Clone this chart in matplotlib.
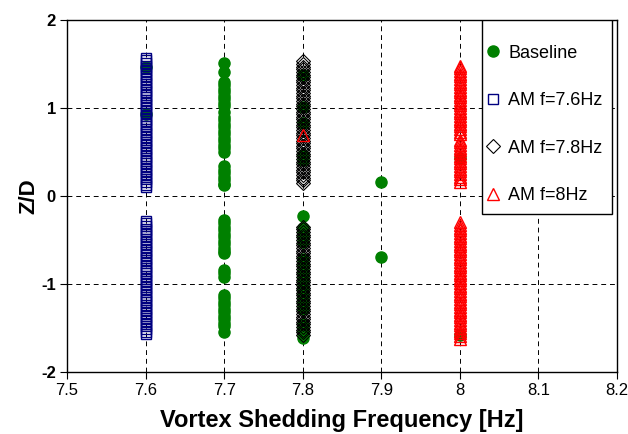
import matplotlib
matplotlib.use("Agg")
import matplotlib.pyplot as plt
from matplotlib.lines import Line2D
from matplotlib.patches import Rectangle

plt.rcParams['font.family'] = ['Liberation Sans', 'DejaVu Sans']

# baseline shedding positions (frequency, Z/D)
base_f = [7.6, 7.6,
          7.7, 7.7, 7.7, 7.7, 7.7, 7.7, 7.7, 7.7, 7.7, 7.7, 7.7, 7.7, 7.7, 7.7, 7.7,
          7.7, 7.7, 7.7, 7.7, 7.7, 7.7, 7.7, 7.7, 7.7, 7.7, 7.7, 7.7, 7.7, 7.7,
          7.7, 7.7, 7.7, 7.7, 7.7, 7.7, 7.7, 7.7, 7.7, 7.7, 7.7, 7.7, 7.7, 7.7,
          7.7, 7.7, 7.7, 7.7, 7.7, 7.7, 7.7, 7.7, 7.7, 7.7, 7.7,
          7.8, 7.8, 7.8, 7.8, 7.8,
          7.8, 7.8, 7.8, 7.8, 7.8, 7.8, 7.8, 7.8, 7.8, 7.8, 7.8, 7.8, 7.8, 7.8,
          7.8, 7.8, 7.8, 7.8, 7.8, 7.8, 7.8, 7.8, 7.8, 7.8, 7.8, 7.8,
          7.9, 7.9, 8.0, 8.0]
base_z = [1.47, 0.93,
          1.51, 1.41, 1.30, 1.26, 1.22, 1.18, 1.14, 1.10, 1.06, 1.02, 0.95, 0.90, 0.86,
          0.82, 0.78, 0.74, 0.70, 0.66, 0.62, 0.58, 0.54, 0.50, 0.34, 0.30, 0.26, 0.22, 0.18,
          0.14, 0.12, -0.27, -0.31, -0.35, -0.39, -0.43, -0.47, -0.51, -0.55, -0.59, -0.63,
          -0.65, -0.84, -0.88, -0.92, -1.12, -1.16, -1.20, -1.24, -1.28, -1.32, -1.36, -1.40,
          -1.44, -1.48, -1.54,
          1.38, 1.01, 0.83, 0.47, 0.41,
          -0.23, -0.36, -0.40, -0.44, -0.48, -0.52, -0.72, -0.76, -0.80, -0.84, -0.88, -0.92,
          -0.96, -1.00, -1.04, -1.08, -1.12, -1.16, -1.20, -1.24, -1.28, -1.45, -1.49, -1.53,
          -1.57, -1.61,
          0.16, -0.69, 0.43, -1.58]

# AM forcing at 7.6 Hz
am76_z = [1.57, 1.54, 1.51, 1.48, 1.45, 1.42, 1.39, 1.36, 1.33, 1.30, 1.27, 1.24, 1.21,
          1.18, 1.15, 1.12, 1.09, 1.06, 1.03, 1.00, 0.97, 0.94, 0.91, 0.88, 0.85, 0.82,
          0.79, 0.76, 0.73, 0.70, 0.67, 0.64, 0.61, 0.58, 0.55, 0.52, 0.49, 0.46, 0.43,
          0.40, 0.37, 0.34, 0.31, 0.28, 0.25, 0.22, 0.19, 0.16, 0.13, 0.10,
          -0.28, -0.31, -0.34, -0.37, -0.40, -0.43, -0.46, -0.49, -0.52, -0.55, -0.58,
          -0.61, -0.64, -0.67, -0.70, -0.73, -0.76, -0.79, -0.82, -0.85, -0.88, -0.91,
          -0.94, -0.97, -1.00, -1.03, -1.06, -1.09, -1.12, -1.15, -1.18, -1.21, -1.24,
          -1.27, -1.30, -1.33, -1.36, -1.39, -1.42, -1.45, -1.48, -1.51, -1.54, -1.57]
am76_f = [7.6] * len(am76_z)

# AM forcing at 7.8 Hz
am78_z = [1.53, 1.50, 1.47, 1.44, 1.41, 1.38, 1.35, 1.32, 1.29, 1.26, 1.23, 1.20, 1.17,
          1.14, 1.11, 1.08, 1.05, 1.02, 0.99, 0.96, 0.93, 0.90, 0.87, 0.84, 0.81, 0.78,
          0.75, 0.72, 0.69, 0.66, 0.63, 0.60, 0.57, 0.54, 0.51, 0.48, 0.45, 0.42, 0.39,
          0.36, 0.33, 0.30, 0.27, 0.24, 0.21, 0.18, 0.15,
          -0.35, -0.38, -0.41, -0.44, -0.47, -0.50, -0.53, -0.56, -0.59, -0.62, -0.65,
          -0.68, -0.71, -0.74, -0.77, -0.80, -0.83, -0.86, -0.89, -0.92, -0.95, -0.98,
          -1.01, -1.04, -1.07, -1.10, -1.13, -1.16, -1.19, -1.22, -1.25, -1.28, -1.31,
          -1.34, -1.37, -1.40, -1.43, -1.46, -1.49, -1.52, -1.55, -1.58]
am78_f = [7.8] * len(am78_z)

# AM forcing at 8 Hz
am8_z = [0.69,
         1.48, 1.45, 1.42, 1.39, 1.36, 1.33, 1.30, 1.27, 1.24, 1.21, 1.18, 1.15, 1.12,
         1.09, 1.06, 1.03, 1.00, 0.97, 0.94, 0.91, 0.88, 0.85, 0.82, 0.79, 0.76, 0.73,
         0.70, 0.64, 0.61, 0.58, 0.55, 0.52, 0.49, 0.46, 0.43, 0.40, 0.37, 0.34, 0.31,
         0.28, 0.25, 0.22, 0.19, 0.16,
         -0.30, -0.33, -0.36, -0.39, -0.42, -0.45, -0.48, -0.51, -0.54, -0.57, -0.60,
         -0.63, -0.66, -0.69, -0.72, -0.75, -0.78, -0.81, -0.84, -0.87, -0.90, -0.93,
         -0.96, -0.99, -1.02, -1.05, -1.08, -1.11, -1.14, -1.17, -1.20, -1.23, -1.26,
         -1.29, -1.32, -1.35, -1.38, -1.41, -1.44, -1.47, -1.50, -1.53, -1.56, -1.59,
         -1.62]
am8_f = [7.8] + [8.0] * (len(am8_z) - 1)

xticks = [7.5, 7.6, 7.7, 7.8, 7.9, 8.0, 8.1, 8.2]
xtick_labels = ['7.5', '7.6', '7.7', '7.8', '7.9', '8', '8.1', '8.2']
yticks = [-2, -1, 0, 1, 2]
ytick_labels = ['-2', '-1', '0', '1', '2']

fig = plt.figure(figsize=(6.28, 4.34), dpi=100)
ax = fig.add_axes([67 / 628, 1 - 372 / 434, 550 / 628, 352 / 434])

circ = dict(linestyle='none', marker='o', ms=8.0, color='green', mec='green')
sq = dict(linestyle='none', marker='s', ms=7.6, mfc='none', mec='navy', mew=1.0)
dia = dict(linestyle='none', marker='D', ms=6.8, mfc='none', mec='black', mew=0.8)
tri = dict(linestyle='none', marker='^', ms=8.2, mfc='none', mec='red', mew=1.0)

ax.plot(base_f, base_z, zorder=3, **circ)
ax.plot(am76_f, am76_z, zorder=4, **sq)
ax.plot(am78_f, am78_z, zorder=5, **dia)
ax.plot(am8_f, am8_z, zorder=6, **tri)

ax.set_xlim(7.5, 8.2)
ax.set_ylim(-2, 2)
ax.set_xticks(xticks)
ax.set_xticklabels(xtick_labels, fontsize=12)
ax.set_yticks(yticks)
ax.set_yticklabels(ytick_labels, fontsize=12, fontweight='bold')
ax.tick_params(direction='out', length=5, width=0.8, color='black', pad=3)
ax.grid(True, color='black', linestyle=(0, (5, 4)), linewidth=0.7, zorder=1)
ax.set_axisbelow(True)
for sp in ax.spines.values():
    sp.set_linewidth(1.0)
    sp.set_color('black')

ax.set_xlabel('Vortex Shedding Frequency [Hz]', fontsize=17, fontweight='bold', labelpad=8)
ax.set_ylabel('Z/D', fontsize=16, fontweight='bold', labelpad=1)

# legend box: frame drawn separately so it can be taller than it is padded sideways
box = Rectangle((0.7545, 0.449), 0.2364, 0.551, transform=ax.transAxes,
                facecolor='white', edgecolor='black', linewidth=1.0, zorder=7)
ax.add_patch(box)

handles = [Line2D([], [], **circ), Line2D([], [], **sq),
           Line2D([], [], **dia), Line2D([], [], **tri)]
labels = ['Baseline', 'AM f=7.6Hz', 'AM f=7.8Hz', 'AM f=8Hz']
leg = ax.legend(handles, labels, loc='upper left', bbox_to_anchor=(0.762, 0.93),
                prop={'size': 13}, frameon=False, labelspacing=1.69,
                borderpad=0, handlelength=0.8, handletextpad=0.42, borderaxespad=0)
leg.set_zorder(8)

fig.savefig('out.png', dpi=100)
